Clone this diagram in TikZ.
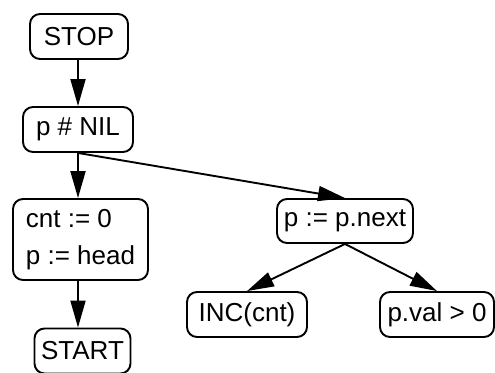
\documentclass[tikz,border=0pt]{standalone}
\usepackage{fontspec}
\setmainfont{Liberation Sans}
\usetikzlibrary{arrows.meta}
\begin{document}
\begin{tikzpicture}[x=1pt,y=-1pt,
    box/.style={draw,line width=1.9pt,rounded corners=10pt,minimum height=45pt,inner xsep=0pt,
      font=\fontsize{26}{37}\selectfont},
    flow/.style={line width=1.9pt,-{Triangle[length=27pt,width=15pt]}}]
        \useasboundingbox (0,0) rectangle (495,372);
        %% left column
        \node[box,minimum width=98pt] (stop) at (79,36.5) {STOP};
        \node[box,minimum width=110pt] (nil) at (78,129.5) {p \# NIL};
        \node[box,minimum width=135pt,minimum height=81pt,align=left] (init) at (80.5,239.5) {cnt := 0\\p := head};
        \node[box,minimum width=96pt] (start) at (82.5,351) {START};
        %% right part
        \node[box,minimum width=136pt,minimum height=44pt] (next) at (345,221) {p := p.next};
        \node[box,minimum width=120pt] (inc) at (247,314.5) {INC(cnt)};
        \node[box,minimum width=114pt] (pval) at (437,314.5) {p.val > 0};
        %% arrows
        \draw[flow] (stop.south -| nil.south) -- (nil);
        \draw[flow] (nil.south) -- (init.north -| nil.south);
        \draw[flow] (init.south -| nil.south) -- (start.north -| nil.south);
        \draw[flow] (nil.south) -- (next.north);
        \draw[flow] (next.south) -- (inc.north);
        \draw[flow] (next.south) -- (pval.north);
    \end{tikzpicture}
\end{document}
